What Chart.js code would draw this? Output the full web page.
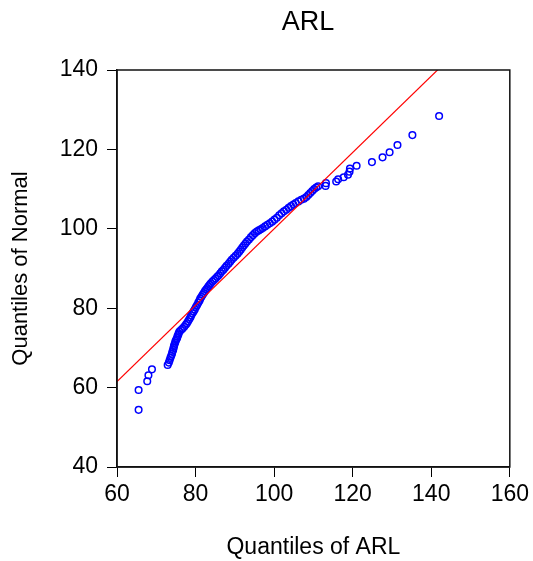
<!DOCTYPE html>
<html>
<head>
<meta charset="utf-8">
<script src="https://cdn.jsdelivr.net/npm/chart.js@4/dist/chart.umd.min.js"></script>
<style>
  html, body { margin: 0; padding: 0; background: #fff; }
  #wrap { width: 533px; height: 561px; }
</style>
</head>
<body>
<div id="wrap"><canvas id="qq" width="533" height="561"></canvas></div>
<script>
// ================= DATA =================
// Quantiles of ARL (x) vs Quantiles of Normal (y)
const arlQuantiles = [
  65.5, 65.5, 67.7, 68.0, 68.9, 72.9,
  73.2, 73.4, 73.6, 73.8, 74.0, 74.1, 74.3, 74.4, 74.5, 74.6, 74.8, 74.9, 75.1, 75.3, 75.4, 75.6, 75.7, 75.9,
  76.3, 76.7, 77.1, 77.5, 77.8, 78.1, 78.4, 78.7, 78.9, 79.2, 79.5, 79.8, 80.1, 80.4, 80.7, 81.0, 81.2, 81.5,
  81.8, 82.1, 82.4, 82.7, 83.0, 83.3, 83.6, 83.9, 84.3, 84.7, 85.1, 85.5, 85.9, 86.3, 86.7, 87.1, 87.5, 87.9,
  88.4, 88.8, 89.2, 89.7, 90.2, 90.7, 91.1, 91.5, 91.9, 92.3, 92.7, 93.1, 93.6, 94.1, 94.6, 95.1, 95.6, 96.1,
  96.6, 97.1, 97.7, 98.3, 98.9, 99.5, 100.1, 100.7, 101.3, 101.9, 102.5, 103.1, 103.7, 104.3, 104.9, 105.5,
  106.2, 106.9, 107.6, 108.2, 108.7, 109.2, 109.7, 110.2, 110.7, 111.2,
  113.1, 113.2, 115.8, 116.3, 117.7, 118.8, 119.2, 119.3, 121.0, 124.9, 127.6, 129.4, 131.4, 135.2, 142.0
];
const normalQuantiles = [
  54.4, 59.4, 61.6, 63.1, 64.6, 65.7,
  66.3, 66.9, 67.5, 68.0, 68.5, 69.0, 69.5, 70.0, 70.4, 70.8, 71.3, 71.7, 72.1, 72.5, 72.9, 73.3, 73.7, 74.1,
  74.5, 74.9, 75.3, 75.8, 76.2, 76.7, 77.2, 77.7, 78.2, 78.7, 79.2, 79.7, 80.3, 80.8, 81.4, 81.9, 82.4, 82.9,
  83.4, 83.8, 84.3, 84.7, 85.1, 85.5, 85.9, 86.3, 86.7, 87.1, 87.5, 87.9, 88.3, 88.8, 89.3, 89.7, 90.2, 90.7,
  91.2, 91.7, 92.2, 92.7, 93.2, 93.7, 94.2, 94.7, 95.3, 95.8, 96.3, 96.8, 97.3, 97.9, 98.4, 98.9, 99.3, 99.6,
  99.9, 100.2, 100.6, 101.0, 101.4, 101.8, 102.3, 102.8, 103.4, 103.9, 104.4, 104.8, 105.3, 105.7, 106.1, 106.5,
  106.9, 107.3, 107.6, 108.0, 108.5, 109.0, 109.5, 110.0, 110.4, 110.7,
  110.8, 111.5, 111.9, 112.5, 113.0, 113.6, 114.4, 115.2, 115.9, 116.8, 118.0, 119.3, 121.1, 123.6, 128.4
];
// reference line end points
const lineX = [60, 160];
const lineY = [61.5, 157.7];
// axis ticks
const xTicks = [60, 80, 100, 120, 140, 160];
const yTicks = [40, 60, 80, 100, 120, 140];

const FONT = "'Liberation Sans', Arial, sans-serif";

// ================= PLUGINS =================
// box round the plot area + title over it
const framePlugin = {
  id: 'frame',
  afterDraw(chart) {
    const { ctx, chartArea: a } = chart;
    ctx.save();
    ctx.strokeStyle = '#111';
    ctx.lineWidth = 1.5;
    ctx.strokeRect(a.left, a.top, a.right - a.left, a.bottom - a.top);
    ctx.fillStyle = '#000';
    ctx.font = "27px " + FONT;
    ctx.textAlign = 'center';
    ctx.textBaseline = 'alphabetic';
    ctx.fillText('ARL', 308, 30);
    ctx.restore();
  }
};

// ================= CHART =================
const ctx = document.getElementById('qq').getContext('2d');
new Chart(ctx, {
  type: 'scatter',
  data: {
    datasets: [
      {
        type: 'line',
        data: lineX.map((x, i) => ({ x: x, y: lineY[i] })),
        borderColor: '#ff0000',
        borderWidth: 1.2,
        pointRadius: 0,
        fill: false
      },
      {
        data: arlQuantiles.map((x, i) => ({ x: x, y: normalQuantiles[i] })),
        pointStyle: 'circle',
        pointRadius: 3.3,
        pointBorderWidth: 1.5,
        borderColor: '#0000ff',
        backgroundColor: 'rgba(0,0,0,0)'
      }
    ]
  },
  options: {
    responsive: false,
    devicePixelRatio: 1,
    animation: false,
    layout: { padding: { top: 70, right: 21, bottom: 0, left: 0 } },
    plugins: {
      legend: { display: false },
      tooltip: { enabled: false }
    },
    scales: {
      x: {
        type: 'linear',
        min: 60, max: 160,
        afterBuildTicks: s => { s.ticks = xTicks.map(v => ({ value: v })); },
        afterFit: s => { s.height = 94; },
        grid: { drawOnChartArea: false, drawTicks: true, tickLength: 10, color: '#000' },
        border: { display: true, color: '#111', width: 1.5 },
        ticks: { color: '#000', font: { family: FONT, size: 23 }, padding: 4, maxRotation: 0 },
        title: { display: true, text: 'Quantiles of ARL', color: '#000',
                 font: { family: FONT, size: 23 }, padding: { top: 0, bottom: 0 } }
      },
      y: {
        type: 'linear',
        min: 40, max: 140,
        afterBuildTicks: s => { s.ticks = yTicks.map(v => ({ value: v })); },
        afterFit: s => { s.width = 117; },
        grid: { drawOnChartArea: false, drawTicks: true, tickLength: 10, color: '#000' },
        border: { display: true, color: '#111', width: 1.5 },
        ticks: { color: '#000', font: { family: FONT, size: 23 }, padding: 9 },
        title: { display: true, text: 'Quantiles of Normal', color: '#000',
                 font: { family: FONT, size: 22 }, padding: { top: 8, bottom: 0 } }
      }
    }
  },
  plugins: [framePlugin]
});
</script>
</body>
</html>
